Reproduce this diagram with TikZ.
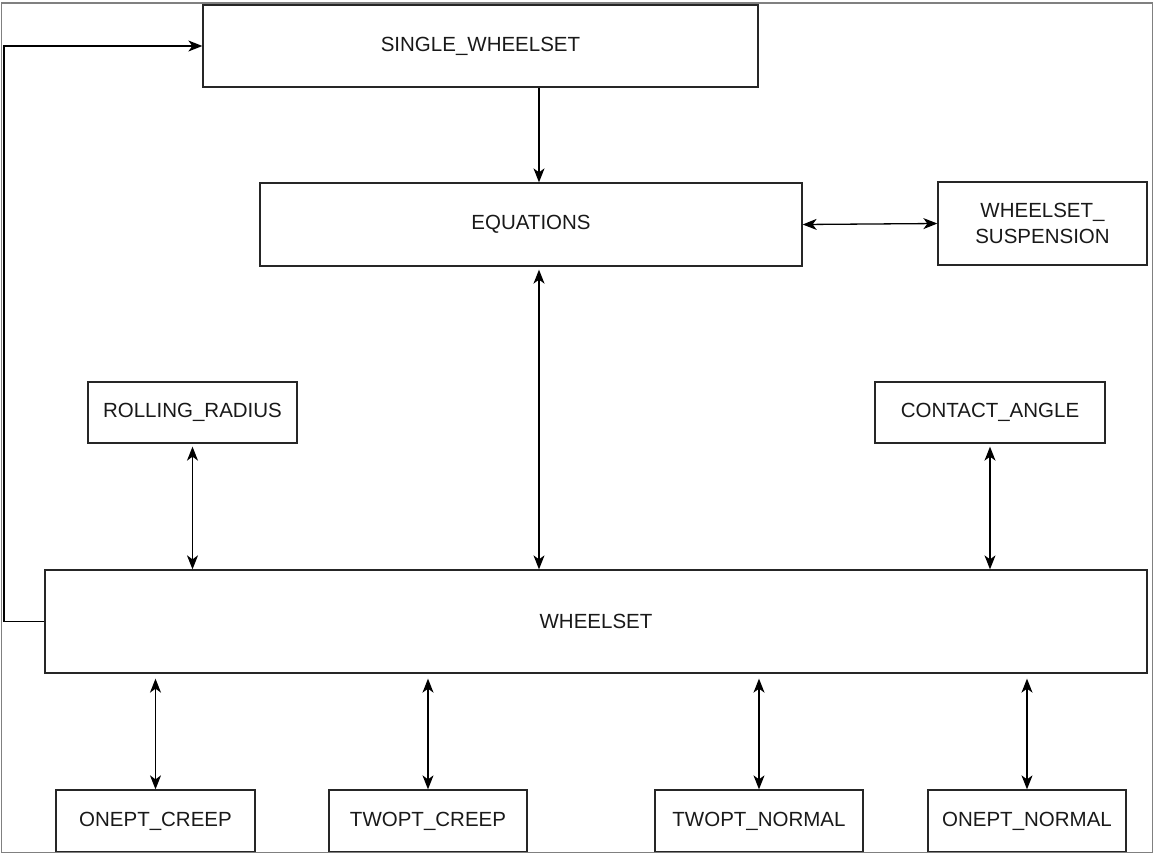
\documentclass[tikz,border=0pt]{standalone}
\usepackage{fontspec}
\setmainfont{Liberation Sans}
\usetikzlibrary{arrows.meta}

\begin{document}
\begin{tikzpicture}[
x=1pt, y=-1pt,
block/.style={
	draw=black!85, rectangle, line width=1.3pt,
	inner sep=0pt, align=center, text=black!90,
	font=\fontsize{20.5}{26}\selectfont
},
link/.style={line width=1.3pt, black},
>={Stealth[length=14pt,width=11pt,inset=4pt]}
]
\useasboundingbox (0,0) rectangle (1154,854);
\node[block, minimum width=555pt, minimum height=82pt] (single) at (480.5,46) {SINGLE\_WHEELSET};
\node[block, minimum width=542pt, minimum height=83pt] (eq) at (531,224.5) {EQUATIONS};
\node[block, minimum width=209pt, minimum height=83pt] (susp) at (1042.5,223.5) {WHEELSET\_\\SUSPENSION};
\node[block, minimum width=209pt, minimum height=61pt] (rr) at (192.5,412.5) {ROLLING\_RADIUS};
\node[block, minimum width=230pt, minimum height=61pt] (ca) at (990,412.5) {CONTACT\_ANGLE};
\node[block, minimum width=1102pt, minimum height=103pt] (ws) at (596,621.5) {WHEELSET};
\node[block, minimum width=199pt, minimum height=62pt] (c1) at (155.5,821) {ONEPT\_CREEP};
\node[block, minimum width=198pt, minimum height=62pt] (c2) at (428,821) {TWOPT\_CREEP};
\node[block, minimum width=208pt, minimum height=62pt] (c3) at (759,821) {TWOPT\_NORMAL};
\node[block, minimum width=198pt, minimum height=62pt] (c4) at (1027,821) {ONEPT\_NORMAL};
\coordinate (mid) at (539,0);
\coordinate (back) at (4,0);
% links
\draw[link,->] (single.south -| mid) -- (eq.north -| mid);
\draw[link,<->, shorten <=3pt] (eq.south -| mid) -- (ws.north -| mid);
\draw[link,<->] (eq.east) -- (susp.west);
\draw[link,<->, shorten <=3pt] (rr.south) -- (rr.south |- ws.north);
\draw[link,<->, shorten <=3pt] (ca.south) -- (ca.south |- ws.north);
\foreach \i in {1,...,4}
{
	\draw[link,<->, shorten <=5pt] (c\i.north |- ws.south) -- (c\i.north);
}
\draw[link,->] (ws.west) -- (ws.west -| back) |- (single.west);
% frame
\draw[gray, line width=1.5pt] (1.5,3) rectangle (1152.5,852.5);
\end{tikzpicture}
\end{document}
